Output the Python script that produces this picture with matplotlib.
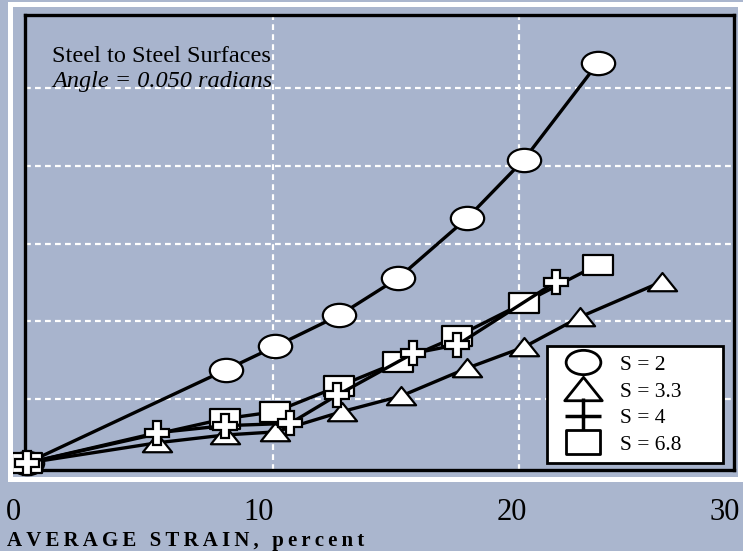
"""
Load vs. average strain, steel to steel surfaces (angle 0.050 rad).
"""

import numpy as np
import matplotlib.pyplot as plt
from matplotlib.path import Path
from matplotlib.transforms import Affine2D
from matplotlib.lines import Line2D
from matplotlib.patches import Rectangle

# Values (y in grid-spacing units, no scale printed)
s2_x = [0, 8.1, 10.1, 12.7, 15.1, 17.9, 20.2, 23.2]
s2_y = [0, 1.20, 1.50, 1.90, 2.38, 3.15, 3.90, 5.14]
s33_x = [0, 5.3, 8.05, 10.1, 12.8, 15.2, 17.9, 20.2, 22.5, 25.8]
s33_y = [0, 0.26, 0.36, 0.40, 0.66, 0.86, 1.22, 1.49, 1.88, 2.33]
s4_x = [0, 5.3, 8.05, 10.7, 12.6, 15.7, 17.5, 21.5]
s4_y = [0, 0.39, 0.48, 0.51, 0.87, 1.41, 1.52, 2.33]
s68_x = [0, 8.05, 10.1, 12.7, 15.1, 17.5, 20.2, 23.2]
s68_y = [0, 0.57, 0.66, 0.99, 1.30, 1.63, 2.06, 2.55]
labels = ['S = 2', 'S = 3.3', 'S = 4', 'S = 6.8']
x_ticks = [0, 10, 20, 30]

serif = ['Liberation Serif', 'DejaVu Serif']
bg = '#aab6ce'

# Flattened marker shapes like the original print
ellipse = Path.unit_circle().transformed(Affine2D().scale(1, 0.7))
rect = Path([(-1, -0.67), (1, -0.67), (1, 0.67), (-1, 0.67), (-1, -0.67)], closed=True)
tri = Path([(-1, -0.6), (1, -0.6), (0, 0.65), (-1, -0.6)], closed=True)

fig = plt.figure(figsize=(7.43, 5.51), dpi=100, facecolor=bg)
ax = fig.add_axes([25 / 743, 1 - 470 / 551, 709 / 743, 455 / 551])
ax.set_facecolor('#a8b4cd')

# white outline around the plot frame
fig.patches.append(Rectangle((10 / 743, 1 - 479 / 551), 730 / 743, 475 / 551,
                             transform=fig.transFigure, fill=False,
                             edgecolor='white', linewidth=3.6, zorder=0))

style = dict(color='black', lw=2.4, mfc='white', mec='black', mew=1.6, clip_on=False)
ax.plot(s2_x, s2_y, marker=ellipse, ms=24, zorder=3, **style)
ax.plot(s33_x, s33_y, marker=tri, ms=21, zorder=4, **style)
ax.plot(s68_x, s68_y, marker=rect, ms=21, zorder=5, **style)
ax.plot(s4_x, s4_y, marker='P', ms=17, zorder=6, **style)

ax.set_xlim(-0.08, 28.74)
ax.set_ylim(-0.09, 5.76)
ax.set_xticks([10, 20])
ax.set_yticks(np.arange(0.82, 5, 1.0))
ax.grid(True, color='white', lw=1.6, linestyle=(0, (2.6, 1.9)))
ax.set_axisbelow(True)
ax.tick_params(length=0, labelbottom=False, labelleft=False)
for sp in ax.spines.values():
    sp.set_linewidth(2.4)
    sp.set_color('black')

ax.text(0.038, 0.897, 'Steel to Steel Surfaces', transform=ax.transAxes,
        fontsize=17.5, family=serif, va='baseline')
ax.text(0.038, 0.842, 'Angle = 0.050 radians', transform=ax.transAxes,
        fontsize=17.5, family=serif, style='italic', va='baseline')

# legend
mk = dict(ls='none', mfc='white', mec='black', mew=2)
handles = [Line2D([], [], marker=ellipse, ms=25, **mk),
           Line2D([], [], marker=tri, ms=27, **mk),
           Line2D([], [], marker='+', ms=26, ls='none', mec='black', mew=2.5),
           Line2D([], [], marker=rect, ms=25, **mk)]
leg = ax.legend(handles, labels, loc='lower left',
                bbox_to_anchor=(0.736, 0.015, 0.248, 0.258), mode='expand',
                borderaxespad=0, labelspacing=0.3, handlelength=2.6,
                handletextpad=0.4, borderpad=0.4, fancybox=False,
                framealpha=1, edgecolor='black', facecolor='white',
                prop={'family': serif, 'size': 15.5})
leg.get_frame().set_linewidth(2)
leg.set_zorder(10)

# x tick labels sit loosely under the frame in the original
for xt, px in zip(x_ticks, [13, 259, 512, 725]):
    fig.text(px / 743, 31 / 551, str(xt), ha='center', va='baseline',
             fontsize=22, family=serif)

fig.text(7 / 743, 5 / 551, '\u2009'.join('AVERAGE STRAIN, percent'),
         ha='left', va='baseline', fontsize=15, fontweight='bold', family=serif)

plt.savefig('out.png', dpi=100, facecolor=bg)
plt.close()
print("Saved out.png")
